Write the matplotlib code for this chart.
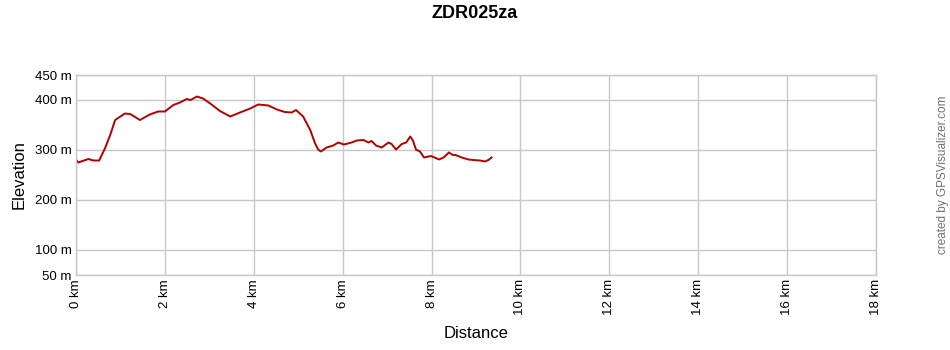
import matplotlib
matplotlib.use("Agg")
import matplotlib.pyplot as plt

plt.rcParams["font.family"] = ["Liberation Sans", "DejaVu Sans"]

# ---Data----
DIST_KM = [0.00, 0.05, 0.28, 0.39, 0.52, 0.65, 0.77, 0.88, 1.10, 1.22, 1.44, 1.66,
           1.85, 2.00, 2.19, 2.34, 2.49, 2.58, 2.72, 2.86, 3.02, 3.24, 3.47, 3.69,
           3.92, 4.10, 4.33, 4.52, 4.70, 4.85, 4.95, 5.11, 5.27, 5.38, 5.45, 5.51,
           5.64, 5.79, 5.90, 6.03, 6.20, 6.32, 6.47, 6.58, 6.65, 6.75, 6.88, 7.03,
           7.10, 7.20, 7.33, 7.43, 7.52, 7.58, 7.65, 7.74, 7.83, 7.99, 8.17, 8.27,
           8.39, 8.48, 8.54, 8.68, 8.83, 8.94, 9.09, 9.20, 9.28, 9.35]
ELEV_M = [281, 275, 282, 279, 279, 303, 330, 360, 373, 372, 360, 371,
          377, 377, 390, 395, 402, 400, 407, 403, 393, 378, 367, 375,
          383, 391, 389, 381, 376, 375, 380, 367, 340, 313, 301, 297,
          305, 309, 315, 311, 315, 319, 320, 315, 318, 309, 305, 315,
          312, 301, 312, 315, 327, 319, 301, 297, 285, 288, 281, 285,
          295, 290, 290, 285, 281, 280, 279, 277, 280, 285]
X_TICKS = [0, 2, 4, 6, 8, 10, 12, 14, 16, 18]
Y_TICKS = [50, 100, 200, 300, 400, 450]
TITLE = "ZDR025za"
# ---Data----

GRID = "#c8c8c8"


def main() -> None:
    fig = plt.figure(figsize=(9.5, 3.5), dpi=100)
    ax = fig.add_axes([76 / 950, 1 - 275 / 350, 800 / 950, 200 / 350])

    ax.plot(DIST_KM, ELEV_M, color="#b00000", linewidth=1.4, solid_joinstyle="round")

    ax.set_xlim(0, 18)
    ax.set_ylim(50, 450)
    ax.set_xticks(X_TICKS)
    ax.set_xticklabels([f"{t} km" for t in X_TICKS], rotation=90, fontsize=9.5)
    ax.set_yticks(Y_TICKS)
    ax.set_yticklabels([f"{t} m" for t in Y_TICKS], fontsize=9.5)
    ax.tick_params(length=0, pad=3)
    ax.grid(True, color=GRID, linewidth=1)
    for s in ax.spines.values():
        s.set_color(GRID)
        s.set_linewidth(1)

    ax.set_xlabel("Distance", fontsize=12, labelpad=8)
    ax.set_ylabel("Elevation", fontsize=12, labelpad=6)

    fig.text(0.5, 1 - 14 / 350, TITLE, ha="center", va="center",
             fontsize=13, fontweight="bold")
    fig.text(943 / 950, 1 - 175 / 350, "created by GPSVisualizer.com", rotation=90,
             ha="center", va="center", fontsize=8.5, color="#707070")

    fig.savefig("out.png", dpi=100)


if __name__ == "__main__":
    main()
